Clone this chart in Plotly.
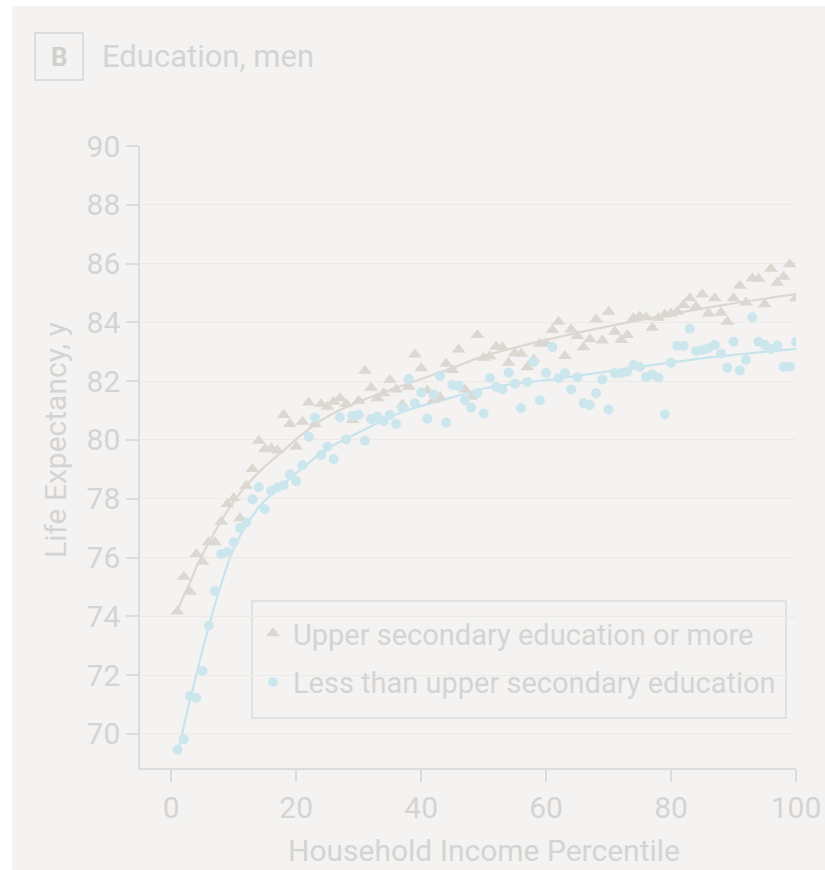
import plotly.graph_objects as go

# ---------------- data ----------------
percentile = list(range(1, 101))

upper_secondary = [
    74.16, 75.35, 74.84, 76.12, 75.86, 76.52, 76.52, 77.22, 77.82, 78.02,
    77.34, 78.44, 79.01, 79.97, 79.68, 79.72, 79.64, 80.85, 80.54, 79.77,
    80.62, 81.27, 80.53, 81.22, 81.13, 81.30, 81.42, 81.22, 80.68, 81.33,
    82.35, 81.78, 81.42, 81.59, 82.04, 81.72, 81.21, 81.81, 82.91, 82.44,
    81.68, 81.36, 81.45, 82.59, 82.38, 83.08, 81.72, 81.47, 83.57, 82.80,
    82.85, 83.17, 83.15, 82.63, 82.95, 82.93, 82.47, 82.74, 83.27, 83.29,
    83.74, 84.02, 82.86, 83.76, 83.54, 83.15, 83.43, 84.11, 83.38, 84.36,
    83.68, 83.40, 83.57, 84.14, 84.20, 84.17, 83.82, 84.16, 84.27, 84.30,
    84.36, 84.59, 84.82, 84.53, 84.96, 84.30, 84.82, 84.33, 84.02, 84.82,
    85.25, 84.68, 85.50, 85.48, 84.62, 85.82, 85.35, 85.55, 85.98, 84.82,
]

less_than_upper = [
    69.46, 69.82, 71.29, 71.22, 72.14, 73.68, 74.86, 76.12, 76.19, 76.52,
    77.00, 77.19, 77.98, 78.39, 77.64, 78.27, 78.38, 78.46, 78.83, 78.60,
    79.14, 80.11, 80.76, 79.49, 79.77, 79.35, 80.77, 80.02, 80.82, 80.85,
    79.97, 80.71, 80.79, 80.64, 80.85, 80.54, 81.10, 82.07, 81.25, 81.61,
    80.72, 81.55, 82.18, 80.59, 81.87, 81.84, 81.36, 81.10, 81.59, 80.90,
    82.11, 81.80, 81.72, 82.29, 81.91, 81.08, 81.97, 82.65, 81.35, 82.28,
    83.16, 82.10, 82.27, 81.72, 82.13, 81.25, 81.19, 81.59, 82.06, 81.04,
    82.27, 82.27, 82.32, 82.55, 82.48, 82.14, 82.23, 82.12, 80.87, 82.63,
    83.20, 83.20, 83.78, 83.03, 83.06, 83.12, 83.23, 82.93, 82.46, 83.34,
    82.36, 82.72, 84.17, 83.34, 83.23, 83.09, 83.21, 82.49, 82.49, 83.34,
]

# fitted curves
upper_fit_x = [1, 2, 3, 4, 5, 6, 8, 10, 12, 15, 18, 21, 25, 30, 37, 45, 50, 63, 76, 88, 100]
upper_fit_y = [74.2, 74.7, 75.15, 75.65, 76.1, 76.5, 77.25, 77.9, 78.45, 79.1, 79.65, 80.2,
               80.8, 81.3, 81.85, 82.45, 82.85, 83.55, 84.12, 84.58, 84.96]

less_fit_x = [1, 2, 3, 4, 5, 6, 7, 8, 9, 10, 12, 14, 16, 18, 21, 25, 30, 37, 45, 50, 63, 76, 88, 100]
less_fit_y = [69.3, 70.25, 71.15, 72.0, 72.85, 73.65, 74.4, 75.1, 75.75, 76.3, 77.1, 77.7,
              78.15, 78.5, 79.05, 79.7, 80.25, 80.95, 81.45, 81.75, 82.12, 82.52, 82.85, 83.1]

y_ticks = [70, 72, 74, 76, 78, 80, 82, 84, 86, 88, 90]
x_ticks = [0, 20, 40, 60, 80, 100]

# ---------------- style ----------------
BG = "#f4f3f1"
TXT = "#d4d4d4"
AXIS = "#dcdcdc"
GRID = "#ebeae7"
GRAY_MK = "#dbd8d2"
BLUE_MK = "#cce6ee"
FONT = "Roboto, Liberation Sans, Arial, sans-serif"

fig = go.Figure()

fig.add_trace(go.Scatter(
    x=upper_fit_x, y=upper_fit_y, mode="lines", line=dict(color="#dcd8d1", width=2.2, shape="spline"),
    showlegend=False, hoverinfo="skip"))
fig.add_trace(go.Scatter(
    x=less_fit_x, y=less_fit_y, mode="lines", line=dict(color="#c7e4ee", width=2.2, shape="spline"),
    showlegend=False, hoverinfo="skip"))

fig.add_trace(go.Scatter(
    x=percentile, y=upper_secondary, mode="markers",
    name="Upper secondary education or more",
    marker=dict(symbol="triangle-up", size=12, color=GRAY_MK, line=dict(width=0)),
    legendgroup="a"))
fig.add_trace(go.Scatter(
    x=percentile, y=less_than_upper, mode="markers",
    name="Less than upper secondary education",
    marker=dict(symbol="circle", size=10, color=BLUE_MK, line=dict(width=0)),
    legendgroup="b"))

W, H = 825, 870
L, R, T, B = 140, 29, 146, 102
pw, ph = W - L - R, H - T - B


def px(xp):
    return (xp - L) / pw


def py(yp):
    return (H - B - yp) / ph


fig.update_layout(
    width=W, height=H, autosize=False,
    margin=dict(l=L, r=R, t=T, b=B),
    paper_bgcolor=BG, plot_bgcolor=BG,
    font=dict(family=FONT, color=TXT, size=30),
    xaxis=dict(range=[-5, 100], tickvals=x_ticks, showgrid=False, zeroline=False,
               showline=True, linecolor=AXIS, linewidth=1.5,
               ticks="outside", ticklen=12, tickwidth=1.5, tickcolor=AXIS,
               tickfont=dict(size=30, color=TXT), automargin=False),
    yaxis=dict(range=[68.84, 90], tickvals=y_ticks, showgrid=True, gridcolor=GRID, gridwidth=1,
               zeroline=False, showline=True, linecolor=AXIS, linewidth=1.5,
               ticks="outside", ticklen=12, tickwidth=1.5, tickcolor=AXIS,
               tickfont=dict(size=30, color=TXT), automargin=False),
    legend=dict(x=px(253), y=py(608), xanchor="left", yanchor="top",
                bgcolor="rgba(0,0,0,0)", borderwidth=0,
                font=dict(size=29, color=TXT), tracegroupgap=8),
    showlegend=True,
)

# legend frame
fig.add_shape(type="rect", xref="paper", yref="paper", x0=px(252), x1=px(786), y0=py(718), y1=py(601),
              line=dict(color=AXIS, width=1.5), fillcolor=BG, layer="below")

fig.add_annotation(x=px(55), y=py(440), xref="paper", yref="paper", text="Life Expectancy, y",
                   textangle=-90, showarrow=False, font=dict(size=30, color=TXT),
                   xanchor="center", yanchor="middle")
fig.add_annotation(x=px(484), y=py(850), xref="paper", yref="paper", text="Household Income Percentile",
                   showarrow=False, font=dict(size=30, color=TXT), xanchor="center", yanchor="middle")

# panel label
fig.add_shape(type="rect", xref="paper", yref="paper", x0=px(35), x1=px(83), y0=py(80), y1=py(33),
              line=dict(color="#dddddd", width=2), fillcolor="rgba(0,0,0,0)")
fig.add_annotation(x=px(59), y=py(57), xref="paper", yref="paper", text="<b>B</b>", showarrow=False,
                   font=dict(size=26, color="#d0d0d0"), xanchor="center", yanchor="middle")
fig.add_annotation(x=px(100), y=py(57), xref="paper", yref="paper", text="Education, men", showarrow=False,
                   font=dict(size=31, color=TXT), xanchor="left", yanchor="middle")

# white margins of the original crop
fig.add_shape(type="rect", xref="paper", yref="paper", x0=px(0), x1=px(12), y0=py(870), y1=py(0),
              line=dict(width=0), fillcolor="white")
fig.add_shape(type="rect", xref="paper", yref="paper", x0=px(0), x1=px(825), y0=py(6), y1=py(0),
              line=dict(width=0), fillcolor="white")

fig.write_html("out.html",
               config={"displayModeBar": False, "responsive": False},
               post_script="document.body.style.margin='0';document.body.style.overflow='hidden';")
